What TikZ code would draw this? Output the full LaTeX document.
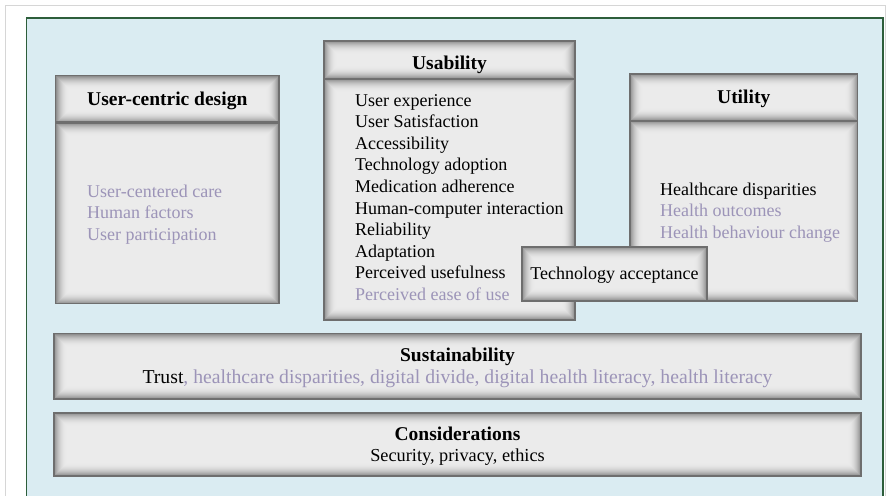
\documentclass[tikz,border=0pt]{standalone}
\usepackage{fontspec}
\setmainfont{Liberation Serif}
\definecolor{framegreen}{HTML}{2D5E3B}
\definecolor{bgblue}{HTML}{DAECF2}
\definecolor{pagegray}{HTML}{D6D6D6}
\definecolor{boxedge}{HTML}{6E6E6E}
\definecolor{softpurple}{RGB}{156,148,184}
\tikzset{
  inset/.style={path picture={
    \foreach \i in {0,...,13}{
      \pgfmathsetmacro\p{8+36*(1-\i/13)^2.2}
      \fill[black!\p] ([shift={(\i pt,-\i pt)}]path picture bounding box.north west)
        rectangle ([shift={(-\i pt,\i pt)}]path picture bounding box.south east);
    }}},
  panel/.style={rectangle, draw=boxedge, line width=1.3pt, inner sep=0pt, outer sep=0pt, anchor=north west, inset},
  sepline/.style={draw=boxedge, line width=2.6pt},
  title/.style={font=\bfseries\fontsize{19.5}{23}\selectfont, anchor=base, inner sep=0pt},
  item/.style={font=\fontsize{18}{21.6}\selectfont, anchor=base west, inner sep=0pt},
  line/.style={font=\fontsize{18}{21.6}\selectfont, anchor=base, inner sep=0pt},
  soft/.style={text=softpurple}
}
\begin{document}
\begin{tikzpicture}[x=1pt,y=-1pt]
\useasboundingbox (0,0) rectangle (888,495);
\clip (0,0) rectangle (888,495);
% page frames
\draw[pagegray, line width=1pt, fill=white] (5,6) rectangle (885.5,510);
\draw[framegreen, line width=1.3pt, fill=bgblue] (26.5,18) rectangle (883,510);

% User-centric design
\node[panel, minimum width=223.5pt, minimum height=47pt] (ucdh) at (55.5,75.5) {};
\node[panel, minimum width=223.5pt, minimum height=181pt] (ucdb) at (55.5,122.5) {};
\draw[sepline] (ucdh.south west) -- (ucdh.south east);
\node[title] (ucdt) at (167.3,105) {User-centric design};
\foreach [count=\k] \t in {User-centered care, Human factors, User participation}
  \node[item, soft] (ucd\k) at (87,{197.3+21.6*(\k-1)}) {\t};

% Usability
\node[panel, minimum width=251pt, minimum height=38pt] (ush) at (324,41) {};
\node[panel, minimum width=251pt, minimum height=241pt] (usb) at (324,79) {};
\draw[sepline] (ush.south west) -- (ush.south east);
\node[title] (ust) at (449.5,69.3) {Usability};
\foreach [count=\k] \t in {User experience, User Satisfaction, Accessibility, Technology adoption, Medication adherence, Human-computer interaction, Reliability, Adaptation, Perceived usefulness}
  \node[item] (us\k) at (355,{106+21.6*(\k-1)}) {\t};
\node[item, soft] (us10) at (355,300.4) {Perceived ease of use};

% Utility
\node[panel, minimum width=227.5pt, minimum height=47pt] (uth) at (630,74) {};
\node[panel, minimum width=227.5pt, minimum height=180pt] (utb) at (630,121) {};
\draw[sepline] (uth.south west) -- (uth.south east);
\node[title] (utt) at (743.7,103.3) {Utility};
\node[item] (ut1) at (660,195) {Healthcare disparities};
\node[item, soft] (ut2) at (660,216.6) {Health outcomes};
\node[item, soft] (ut3) at (660,238.2) {Health behaviour change};

% Technology acceptance
\node[panel, minimum width=185pt, minimum height=54pt] (ta) at (522,247) {};
\node[line] (tat) at (614.5,279) {Technology acceptance};

% Sustainability
\node[panel, minimum width=807pt, minimum height=65.5pt] (sus) at (54,333.5) {};
\node[title] (sust) at (457.5,361.5) {Sustainability};
\node[line, font=\fontsize{19.7}{23}\selectfont] (susl) at (457.5,383.5) {Trust\textcolor{softpurple}{, healthcare disparities, digital divide, digital health literacy, health literacy}};

% Considerations
\node[panel, minimum width=807pt, minimum height=63pt] (con) at (54,413) {};
\node[title] (cont) at (457.5,440) {Considerations};
\node[line, font=\fontsize{18.3}{22}\selectfont] (conl) at (457.5,461.5) {Security, privacy, ethics};
\end{tikzpicture}
\end{document}
